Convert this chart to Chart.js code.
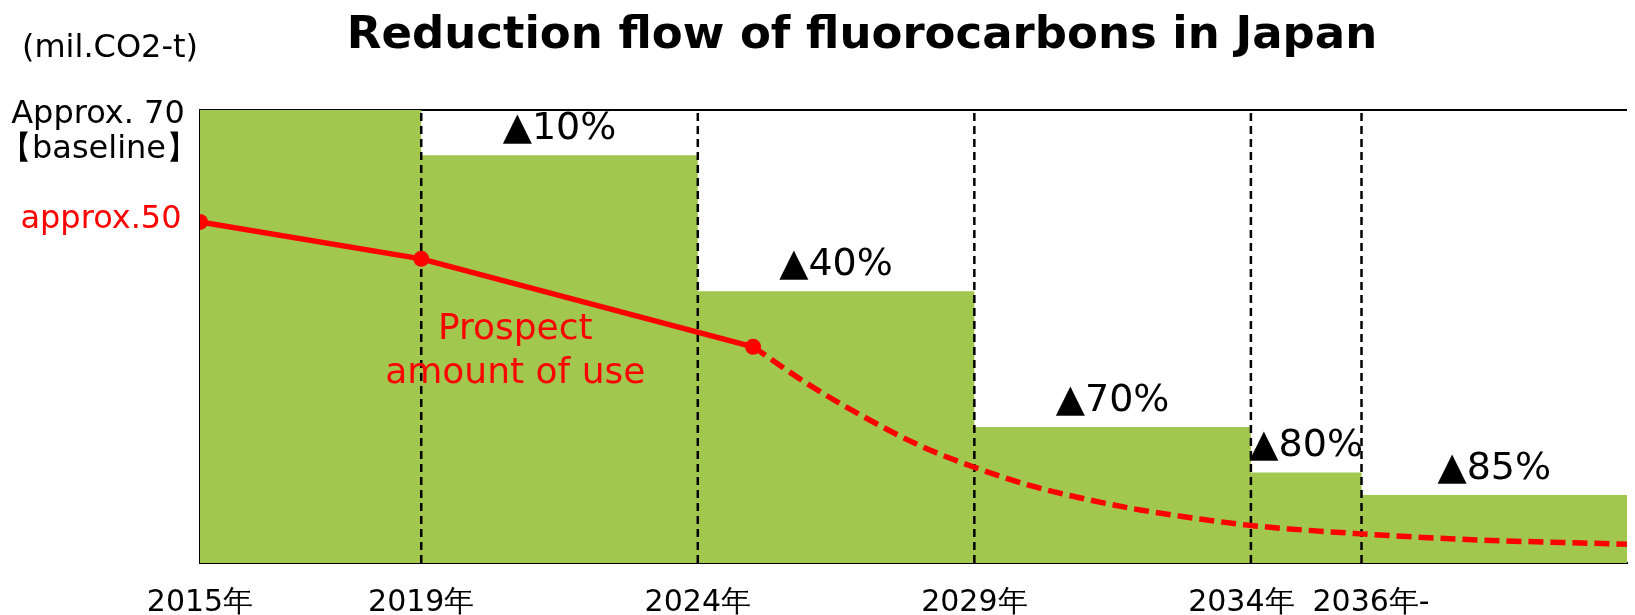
<!DOCTYPE html>
<html>
<head>
<meta charset="utf-8">
<script src="https://cdn.jsdelivr.net/npm/chart.js@4"></script>
<style>
  body { margin: 0; background: #fff; }
  canvas { display: block; }
</style>
</head>
<body>
<canvas id="myChart" width="1635" height="615"></canvas>
<script>
// regulation caps (step area), in mil. CO2-t
const stepYears = [2015, 2019, 2024, 2029, 2034, 2036, 2040.8];
const stepValues = [70, 63, 42, 21, 14, 10.5, 10.5];
const reductionLabels = ["", "▲10%", "▲40%", "▲70%", "▲80%", "▲85%"];

// dashed separators and x tick labels
const dividerYears = [2019, 2024, 2029, 2034, 2036];
const tickYears = [2015, 2019, 2024, 2029, 2034, 2036];
const tickLabels = ["2015年", "2019年", "2024年", "2029年", "2034年  ", "  2036年-"];

// prospect amount of use
const usageYears = [2015, 2019, 2025];
const usageValues = [52.7, 47.0, 33.4];
const forecastYears = [2025, 2026, 2027, 2028, 2029, 2030, 2031, 2032, 2033, 2034, 2036, 2038, 2040.8];
const forecastValues = [33.4, 27.6, 22.6, 18.2, 14.8, 12.0, 9.9, 8.2, 6.9, 5.8, 4.5, 3.6, 2.9];

const green = "#a1c74e";
const font = "'DejaVu Sans', sans-serif";

const toPoints = (xs, ys) => xs.map((x, i) => ({ x: x, y: ys[i] }));

const datasets = [
  {
    data: toPoints(stepYears, stepValues),
    stepped: "before",
    fill: "origin",
    backgroundColor: green,
    borderWidth: 0,
    pointRadius: 0,
    order: 3,
  },
];

dividerYears.forEach((yr) => {
  datasets.push({
    data: [{ x: yr, y: 0 }, { x: yr, y: 70 }],
    borderColor: "#000",
    borderWidth: 2.5,
    borderDash: [8, 5],
    pointRadius: 0,
    fill: false,
    order: 2,
  });
});

datasets.push({
  data: toPoints(usageYears, usageValues),
  borderColor: "#ff0000",
  backgroundColor: "#ff0000",
  borderWidth: 5.5,
  pointRadius: 8,
  pointBorderWidth: 0,
  fill: false,
  order: 0,
});

datasets.push({
  data: toPoints(forecastYears, forecastValues),
  borderColor: "#ff0000",
  borderWidth: 5.5,
  borderDash: [15, 7],
  cubicInterpolationMode: "monotone",
  pointRadius: 0,
  fill: false,
  order: 1,
});

const textPlugin = {
  id: "texts",
  afterDraw(chart) {
    const ctx = chart.ctx;
    const x = chart.scales.x;
    const y = chart.scales.y;
    ctx.save();
    ctx.textAlign = "center";
    ctx.textBaseline = "middle";

    ctx.fillStyle = "#000";
    ctx.font = "bold 45px " + font;
    ctx.fillText("Reduction flow of fluorocarbons in Japan", 862, 36);

    ctx.font = "32px " + font;
    ctx.fillText("(mil.CO2-t)", 110, 49);
    const top = y.getPixelForValue(stepValues[0]);
    ctx.fillText("Approx. 70", 98, top + 5);
    ctx.fillText("【baseline】", 99, top + 40);
    ctx.fillStyle = "#ff0000";
    ctx.fillText("approx.50", 101, y.getPixelForValue(usageValues[0]) - 2);

    ctx.fillStyle = "#000";
    ctx.font = "38px " + font;
    for (let i = 1; i < reductionLabels.length; i++) {
      const cx = (x.getPixelForValue(stepYears[i]) + x.getPixelForValue(stepYears[i + 1])) / 2;
      ctx.fillText(reductionLabels[i], cx, y.getPixelForValue(stepValues[i]) - 26);
    }

    ctx.fillStyle = "#ff0000";
    ctx.font = "36px " + font;
    ctx.textBaseline = "alphabetic";
    const px = x.getPixelForValue(2020.7);
    ctx.fillText("Prospect", px, 339);
    ctx.fillText("amount of use", px, 383);
    ctx.restore();
  },
};

const config = {
  type: "line",
  data: { datasets: datasets },
  options: {
    responsive: false,
    animation: false,
    devicePixelRatio: 1,
    layout: { padding: { top: 110, left: 0, right: 0, bottom: 0 } },
    plugins: {
      legend: { display: false },
      tooltip: { enabled: false },
    },
    scales: {
      x: {
        type: "linear",
        min: 2015,
        max: 2040.8,
        afterBuildTicks: (scale) => {
          scale.ticks = tickYears.map((v) => ({ value: v }));
        },
        afterFit: (scale) => {
          scale.height = 52;
        },
        grid: { display: false, drawTicks: false },
        border: { display: true, color: "#000", width: 2 },
        ticks: {
          color: "#000",
          font: { family: font, size: 30 },
          padding: 22,
          maxRotation: 0,
          autoSkip: false,
          callback: (v) => tickLabels[tickYears.indexOf(v)],
        },
      },
      y: {
        min: 0,
        max: 70,
        afterBuildTicks: (scale) => {
          scale.ticks = [{ value: 70 }];
        },
        afterFit: (scale) => {
          scale.width = 200;
        },
        grid: { color: "#000", lineWidth: 2, drawTicks: false },
        border: { display: true, color: "#000", width: 2 },
        ticks: { display: false },
      },
    },
  },
  plugins: [textPlugin],
};

const lineChart = new Chart(document.getElementById("myChart"), config);
</script>
</body>
</html>
